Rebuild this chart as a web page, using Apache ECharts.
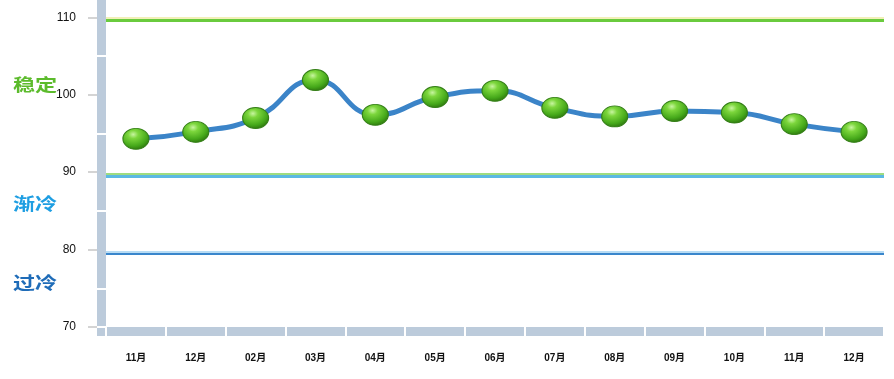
<!DOCTYPE html>
<html><head><meta charset="utf-8">
<script src="https://cdn.jsdelivr.net/npm/echarts@6/dist/echarts.min.js"></script>
<style>html,body{margin:0;padding:0;background:#fff}#c{width:894px;height:379px}</style>
</head><body><div id="c"></div>
<script>
var categories = ['11月','12月','02月','03月','04月','05月','06月','07月','08月','09月','10月','11月','12月'];
var values = [94.3, 95.2, 97.0, 101.9, 97.4, 99.7, 100.5, 98.3, 97.2, 97.9, 97.7, 96.2, 95.2];
var yTicks = [70, 80, 90, 100, 110];
var yGaps = [70, 75, 85, 95, 105];
var thresholdHigh = 109.6;
var thresholdMid = 89.7;
var thresholdLow = 79.5;
var zoneLabels = ['稳定', '渐冷', '过冷'];

var yMin = 68.84, yMax = 112.23;
var band = '#bccbdb';
var chart = echarts.init(document.getElementById('c'));
chart.setOption({
  animation: false,
  grid: {left: 106, right: 10, top: 0, bottom: 43},
  xAxis: [
    {type: 'category', data: categories, position: 'bottom', offset: -4.5,
     axisLine: {lineStyle: {color: band, width: 9, cap: 'butt'}},
     axisTick: {show: false}, axisLabel: {show: false}},
    {type: 'category', data: categories, position: 'bottom', offset: 0,
     axisLine: {show: false},
     axisTick: {show: true, inside: true, length: 9, lineStyle: {color: '#fff', width: 2}},
     axisLabel: {show: true, margin: 17, color: '#111', fontSize: 10, fontWeight: 'bold', fontFamily: 'Liberation Sans, Noto Sans CJK SC'}}
  ],
  yAxis: [
    {type: 'value', min: yMin, max: yMax, position: 'left', offset: 4.5,
     axisLine: {show: true, lineStyle: {color: band, width: 9, cap: 'butt'}},
     axisTick: {show: false}, axisLabel: {show: false}, splitLine: {show: false}},
    {type: 'value', min: yMin, max: yMax, position: 'left', offset: 0,
     axisLine: {show: false},
     axisTick: {show: true, length: 9, customValues: yGaps, lineStyle: {color: '#fff', width: 2}},
     axisLabel: {show: false}, splitLine: {show: false}},
    {type: 'value', min: yMin, max: yMax, position: 'left', offset: 9,
     axisLine: {show: false},
     axisTick: {show: true, length: 9, customValues: yTicks, lineStyle: {color: '#d4d4d4', width: 2}},
     axisLabel: {show: true, customValues: yTicks, margin: 21, color: '#111', fontSize: 12,
       fontFamily: 'Liberation Sans'},
     splitLine: {show: false}}
  ],
  graphic: [
    {type: 'text', left: 13, top: 76, scaleX: 1.3, style: {text: zoneLabels[0], fill: '#5cbb2c', font: 'bold 17px "Noto Sans CJK SC"'}},
    {type: 'text', left: 13, top: 195, scaleX: 1.3, style: {text: zoneLabels[1], fill: '#1e9ee2', font: 'bold 17px "Noto Sans CJK SC"'}},
    {type: 'text', left: 13, top: 274, scaleX: 1.3, style: {text: zoneLabels[2], fill: '#1f6cb8', font: 'bold 17px "Noto Sans CJK SC"'}}
  ],
  series: [
    {type: 'line', data: [], markLine: {silent: true, symbol: 'none', label: {show: false},
      data: [
        {yAxis: thresholdHigh + 0.25, lineStyle: {color: '#f2f0b8', width: 3, type: 'solid'}},
        {yAxis: thresholdHigh, lineStyle: {color: '#6acb3e', width: 3, type: 'solid'}},
        {yAxis: thresholdMid - 0.25, lineStyle: {color: '#5bb9e2', width: 3, type: 'solid'}},
        {yAxis: thresholdMid + 0.1, lineStyle: {color: '#9edc80', width: 2, type: 'solid'}},
        {yAxis: thresholdLow + 0.2, lineStyle: {color: '#b8dcf4', width: 3, type: 'solid'}},
        {yAxis: thresholdLow, lineStyle: {color: '#3a86cc', width: 2, type: 'solid'}}
      ]}},
    {type: 'line', data: values, smooth: 0.5, z: 5,
     lineStyle: {color: '#3b84c8', width: 5},
     symbol: 'circle', symbolSize: [26, 21],
     itemStyle: {
       color: {type: 'radial', x: 0.4, y: 0.3, r: 0.75, colorStops: [
         {offset: 0, color: '#c8f5a0'}, {offset: 0.25, color: '#7cd63c'},
         {offset: 0.7, color: '#45a81a'}, {offset: 1, color: '#2a6e0c'}]},
       borderColor: '#357f18', borderWidth: 1, opacity: 1
     }}
  ]
});
</script></body></html>
